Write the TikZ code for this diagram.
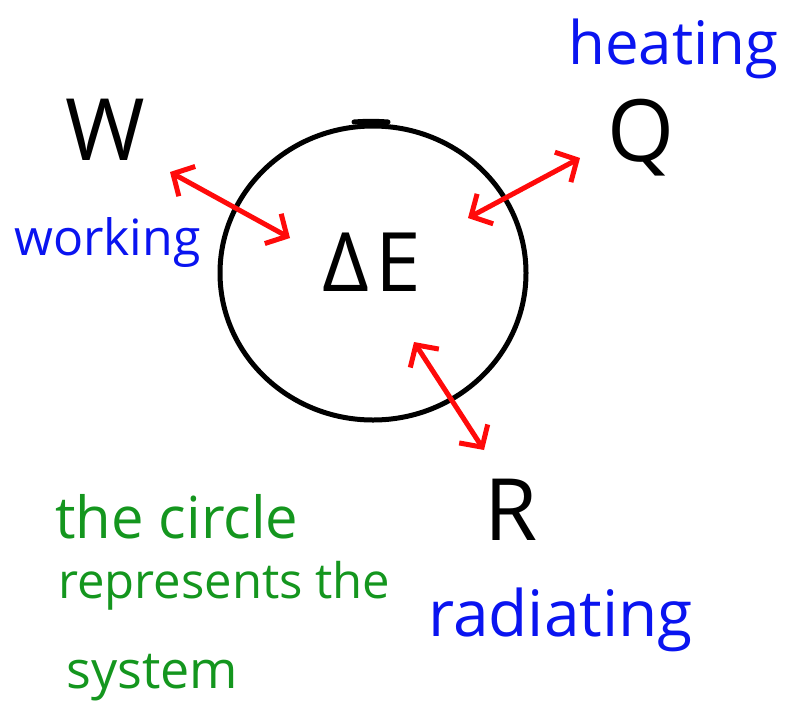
\documentclass[tikz,border=0pt]{standalone}
\usepackage{fontspec}
\setmainfont{Open Sans}
\usepackage{tikz}
\usetikzlibrary{shapes.geometric,arrows.meta,positioning}
\definecolor{SysRed}{HTML}{FF0A0A}
\definecolor{SysBlue}{HTML}{0A14F0}
\definecolor{SysGreen}{HTML}{14961E}
\tikzset{
  sysbound/.style={ellipse,draw=black,line width=5pt,minimum width=306pt,minimum height=294pt,inner sep=0pt},
  quantity/.style={inner sep=0pt,text=black,font=\fontsize{86}{86}\selectfont},
  label/.style={inner sep=0pt,anchor=base west,text=SysBlue},
  note/.style={inner sep=0pt,anchor=base west,text=SysGreen,font=\fontsize{49}{49}\selectfont},
  flow/.style={{Straight Barb[length=16pt,width=34pt]}-{Straight Barb[length=16pt,width=34pt]},line width=5pt,color=SysRed,line cap=round},
}

\begin{document}
\begin{tikzpicture}[x=1pt,y=-1pt]
  \useasboundingbox (0,0) rectangle (786,726);

  % System
  \node[sysbound] (sys) at (373,273) {};
  \draw[line width=5pt,line cap=round] (354,122) to[bend left=4] (388,122);
  \node[quantity,font=\fontsize{82}{82}\selectfont] (dE) at (372,262) {Δ\kern6pt E};

  % Exchanges
  \node[quantity] (W) at (105,130) {W};
  \node[quantity] (Q) at (641,138) {Q};
  \node[quantity] (R) at (511,510) {R};

  % Labels
  \node[label,font=\fontsize{60}{60}\selectfont] (heating) at (568,64) {heating};
  \node[label,font=\fontsize{50}{50}\selectfont] (working) at (14,255) {working};
  \node[label,font=\fontsize{64}{64}\selectfont] (radiating) at (428,636) {radiating};

  % Note
  \node[note,font=\fontsize{58}{58}\selectfont] (note1) at (55,538) {the circle};
  \node[note] (note2) at (58,598) {represents the};
  \node[note,font=\fontsize{52}{52}\selectfont] (note3) at (66,688) {system};

  % Arrows
  \coordinate (wOut) at (170,172);
  \coordinate (wIn) at (290,238);
  \coordinate (qOut) at (580,158);
  \coordinate (qIn) at (468,218);
  \coordinate (rOut) at (484,450);
  \coordinate (rIn) at (414,342);
  \draw[flow] (wOut) -- (wIn);
  \draw[flow] (qOut) -- (qIn);
  \draw[flow] (rOut) -- (rIn);
\end{tikzpicture}
\end{document}
